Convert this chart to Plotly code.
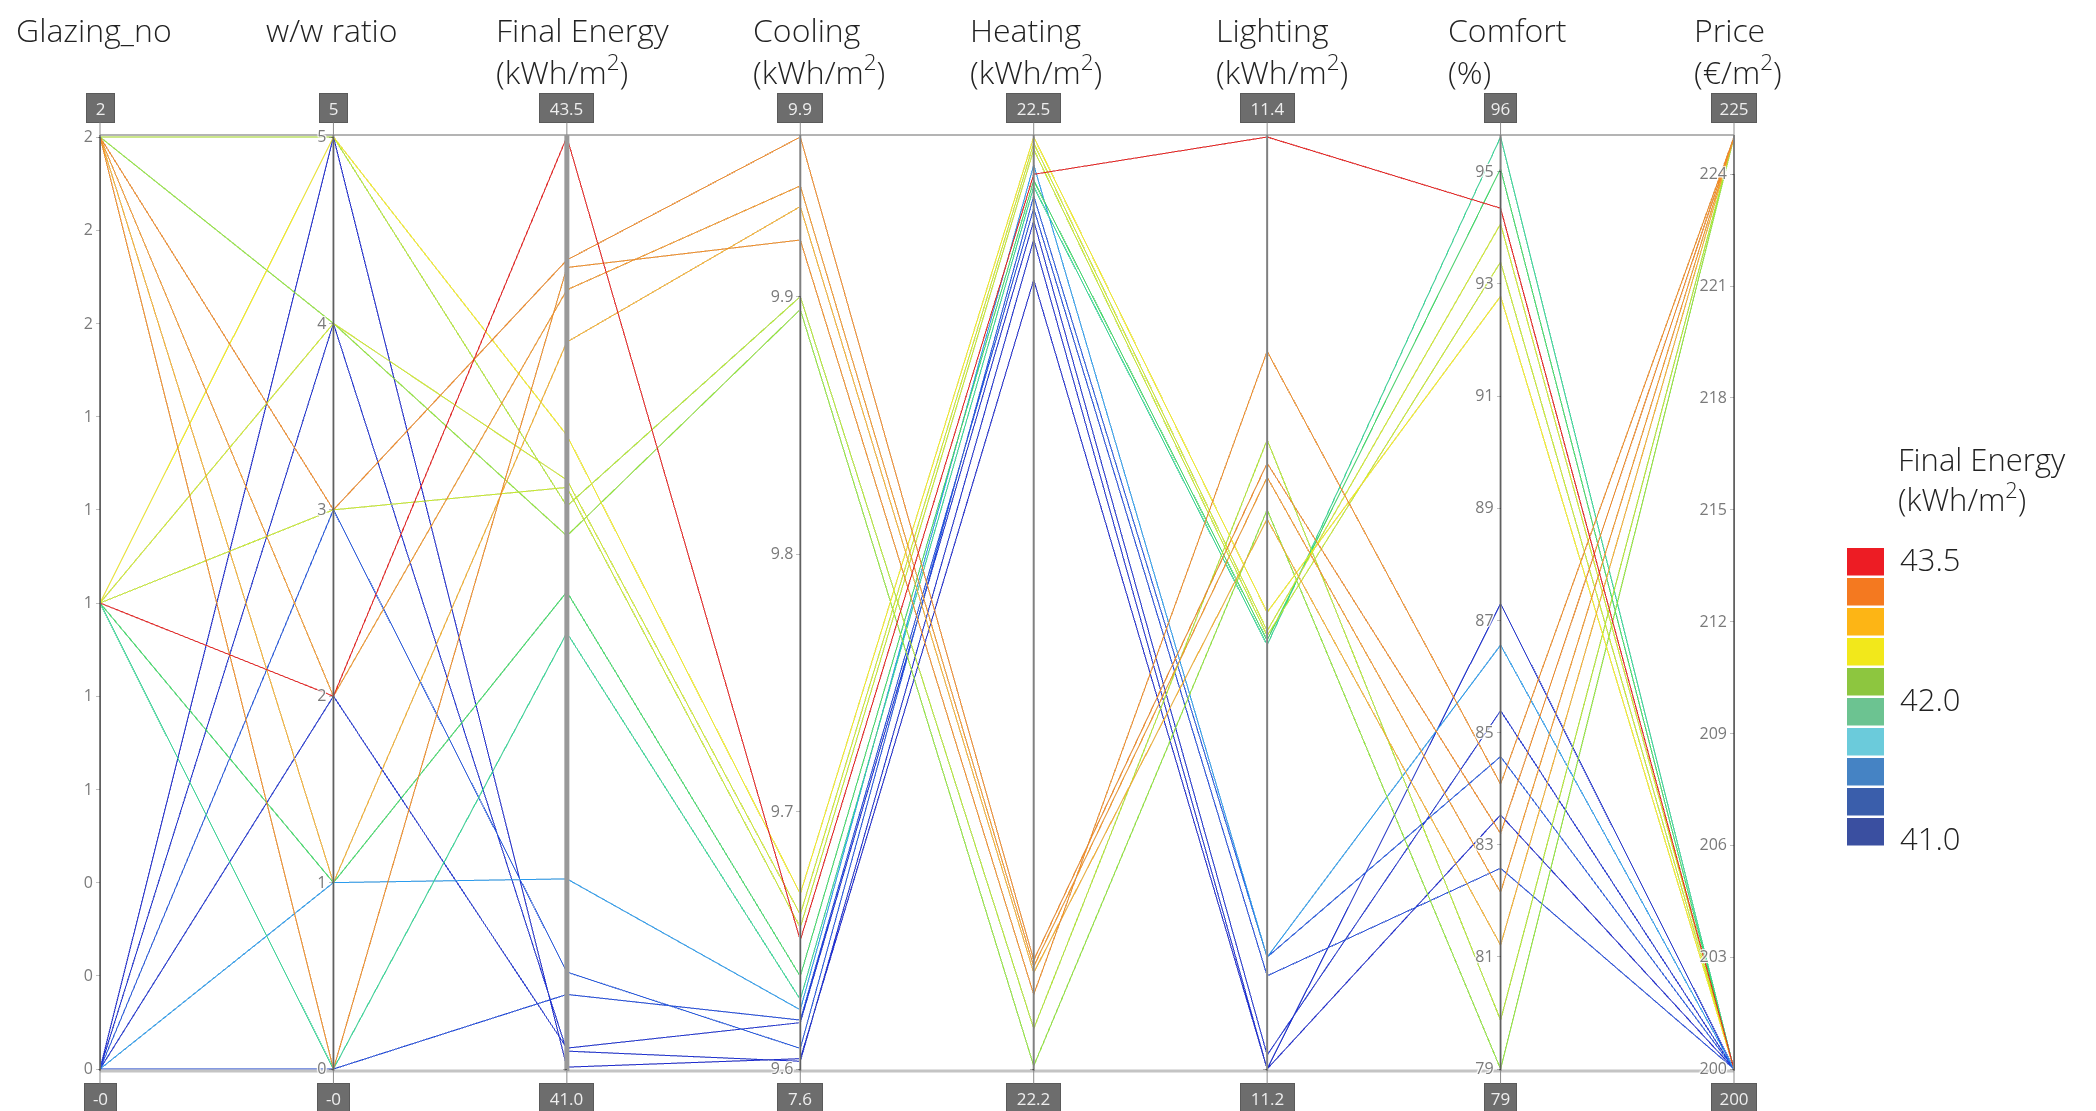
import plotly.graph_objects as go

# ---- design table: 3 glazing options x 6 window/wall ratios ----
glazing_no = [2, 2, 2, 2, 2, 2,
              1, 1, 1, 1, 1, 1,
              0, 0, 0, 0, 0, 0]
ww_ratio = [5, 4, 3, 2, 1, 0,
            5, 4, 3, 2, 1, 0,
            5, 4, 3, 2, 1, 0]
final_energy = [42.51, 42.43, 43.17, 43.09, 42.95, 43.15,
                42.70, 42.58, 42.56, 43.50, 42.28, 42.17,
                41.005, 41.048, 41.26, 41.056, 41.51, 41.20]
cooling = [9.900, 9.895, 9.962, 9.943, 9.935, 9.922,
           9.668, 9.660, 9.655, 9.650, 9.636, 9.627,
           9.604, 9.603, 9.608, 9.618, 9.623, 9.619]
heating = [22.213, 22.201, 22.235, 22.233, 22.231, 22.224,
           22.500, 22.498, 22.496, 22.488, 22.486, 22.484,
           22.454, 22.467, 22.481, 22.473, 22.491, 22.477]
lighting = [11.335, 11.320, 11.330, 11.327, 11.318, 11.354,
            11.298, 11.294, 11.293, 11.400, 11.292, 11.291,
            11.200, 11.200, 11.224, 11.203, 11.224, 11.220]
comfort = [79.87, 79.00, 83.20, 82.15, 81.21, 84.08,
           92.78, 94.07, 93.39, 94.35, 95.05, 95.62,
           83.53, 87.30, 84.57, 85.39, 86.56, 82.58]
price = [225, 225, 225, 225, 225, 225,
         200, 200, 200, 200, 200, 200,
         200, 200, 200, 200, 200, 200]

axis_titles = ["Glazing_no", "w/w ratio",
               "Final Energy<br>(kWh/m<sup>2</sup>)",
               "Cooling<br>(kWh/m<sup>2</sup>)",
               "Heating<br>(kWh/m<sup>2</sup>)",
               "Lighting<br>(kWh/m<sup>2</sup>)",
               "Comfort<br>(%)",
               "Price<br>(€/m<sup>2</sup>)"]
top_labels = ["2", "5", "43.5", "9.9", "22.5", "11.4", "96", "225"]
bottom_labels = ["-0", "-0", "41.0", "7.6", "22.2", "11.2", "79", "200"]

glazing_ticks = [0, 0.2, 0.4, 0.6, 0.8, 1.0, 1.2, 1.4, 1.6, 1.8, 2.0]
glazing_ticktext = ["0", "0", "0", "1", "1", "1", "1", "1", "2", "2", "2"]
ww_ticks = [0, 1, 2, 3, 4, 5]
cooling_ticks = [9.6, 9.7, 9.8, 9.9]
comfort_ticks = [79, 81, 83, 85, 87, 89, 91, 93, 95]
price_ticks = [200, 203, 206, 209, 212, 215, 218, 221, 224]

legend_title = "Final Energy<br>(kWh/m<sup>2</sup>)"
legend_colors = ["#ED1C24", "#F47920", "#FDB515", "#F2E81B", "#8DC63F",
                 "#6CC391", "#6BCBDB", "#4583C4", "#3A5EAB", "#3A4FA0"]
legend_labels = {0: "43.5", 4: "42.0", 9: "41.0"}

# continuous colour ramp for the lines (Final Energy, 41.0 .. 43.5)
line_scale = [
    [0.00, "#1f2ccf"], [0.10, "#2456e0"], [0.20, "#2a9cf0"],
    [0.45, "#2ed8a8"], [0.52, "#40dc60"], [0.57, "#8ee63a"],
    [0.63, "#cdea2a"], [0.68, "#f3ee1e"], [0.78, "#f5b030"],
    [0.87, "#f08a28"], [1.00, "#e8201e"],
]

W, H = 2096, 1111
ML, MR, MT, MB = 100, 362, 135, 40
PW, PH = W - ML - MR, H - MT - MB

FONT = "Open Sans, Lato, sans-serif"


def px_x(px):
    return (px - ML) / PW


def px_y(py):
    return (H - MB - py) / PH


def unique_labels(labels):
    # repeated tick texts are made distinct with zero-width spaces
    seen = {}
    out = []
    for t in labels:
        seen[t] = seen.get(t, 0) + 1
        out.append(t + "\u200b" * (seen[t] - 1))
    return out


tick_font = dict(family=FONT, size=16, color="#7a7a7a")
hidden = dict(size=1, color="rgba(0,0,0,0)")


def no_ticks(lo):
    return dict(tickvals=[lo], ticktext=[" "])


dims = [
    dict(label="", values=glazing_no, range=[0, 2],
         tickvals=glazing_ticks, ticktext=unique_labels(glazing_ticktext)),
    dict(label="", values=ww_ratio, range=[0, 5], tickvals=ww_ticks),
    dict(label="", values=final_energy, range=[41.0, 43.5], **no_ticks(41.0)),
    dict(label="", values=cooling, range=[9.6, 9.962],
         tickvals=cooling_ticks, ticktext=[f"{v:.1f}" for v in cooling_ticks]),
    dict(label="", values=heating, range=[22.2, 22.5], **no_ticks(22.2)),
    dict(label="", values=lighting, range=[11.2, 11.4], **no_ticks(11.2)),
    dict(label="", values=comfort, range=[79, 95.62], tickvals=comfort_ticks),
    dict(label="", values=price, range=[200, 225], tickvals=price_ticks),
]

fig = go.Figure(go.Parcoords(
    dimensions=dims,
    line=dict(color=final_energy, colorscale=line_scale,
              cmin=41.0, cmax=43.5, showscale=False),
    tickfont=tick_font,
    rangefont=hidden,
    labelfont=hidden,
    domain=dict(x=[0, 1], y=[0, 1]),
))

n = len(dims)
shapes = []
annotations = []

# frame lines across the tops and bottoms of the axes
shapes.append(dict(type="line", xref="paper", yref="paper", x0=0, x1=1, y0=1, y1=1,
                   line=dict(color="#b4b4b4", width=2)))
shapes.append(dict(type="line", xref="paper", yref="paper", x0=0, x1=1, y0=0, y1=0,
                   line=dict(color="#c4c4c4", width=3)))

box_width = {1: 21, 2: 25, 3: 38, 4: 47}
title_left = [14, 264, 494, 751, 968, 1214, 1446, 1692]

for i in range(n):
    xp = i / (n - 1)
    shapes.append(dict(type="line", xref="paper", yref="paper", x0=xp, x1=xp, y0=0, y1=1,
                       line=dict(color="#999999" if i == 2 else "#808080",
                                 width=5 if i == 2 else 2)))
    # axis titles
    annotations.append(dict(
        x=px_x(title_left[i]), y=px_y(6), xref="paper", yref="paper",
        xanchor="left", yanchor="top", align="left",
        text=axis_titles[i], showarrow=False,
        font=dict(family=FONT, size=32, color="#222222", weight=300),
    ))
    # range value boxes
    for yv, txt, ay in ((1, top_labels[i], -27), (0, bottom_labels[i], 27)):
        annotations.append(dict(
            x=xp, y=yv, xref="paper", yref="paper",
            text=txt, showarrow=True, ax=0, ay=ay,
            arrowhead=0, arrowwidth=1, arrowcolor="#8a8a8a", standoff=0,
            width=box_width[len(txt)], height=22,
            bgcolor="#6d6d6d", bordercolor="#5a5a5a", borderwidth=1, borderpad=3,
            font=dict(family=FONT, size=17, color="#eeeeee"),
        ))

# discrete colour legend for Final Energy
leg_x0, leg_x1 = 1847, 1884
leg_top, leg_step, leg_h = 548, 30, 27.5
for k, col in enumerate(legend_colors):
    y0 = leg_top + k * leg_step
    shapes.append(dict(type="rect", xref="paper", yref="paper",
                       x0=px_x(leg_x0), x1=px_x(leg_x1),
                       y0=px_y(y0 + leg_h), y1=px_y(y0),
                       fillcolor=col, line=dict(color="rgba(0,0,0,0)", width=0)))
label_y = {0: 559, 4: 699, 9: 838}
for k, txt in legend_labels.items():
    annotations.append(dict(
        x=px_x(1898), y=px_y(label_y[k]), xref="paper", yref="paper",
        xanchor="left", yanchor="middle", text=txt, showarrow=False,
        font=dict(family=FONT, size=31, color="#222222", weight=300),
    ))
annotations.append(dict(
    x=px_x(1896), y=px_y(436), xref="paper", yref="paper",
    xanchor="left", yanchor="top", align="left", text=legend_title, showarrow=False,
    font=dict(family=FONT, size=31, color="#222222", weight=300),
))

fig.update_layout(
    width=W, height=H,
    margin=dict(l=ML, r=MR, t=MT, b=MB),
    paper_bgcolor="white", plot_bgcolor="white",
    shapes=shapes, annotations=annotations,
    font=dict(family=FONT),
)

fig.write_html("out.html", config={"plotGlPixelRatio": 1})
